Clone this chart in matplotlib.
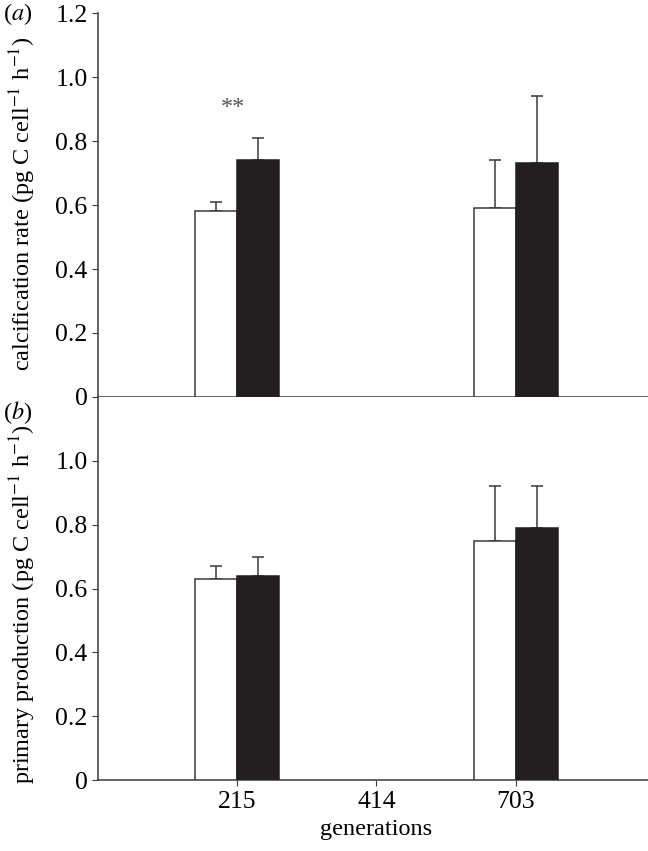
import matplotlib
matplotlib.use("Agg")
import matplotlib.pyplot as plt
import numpy as np

plt.rcParams['font.family'] = ['Liberation Serif', 'DejaVu Serif']
plt.rcParams['mathtext.fontset'] = 'stix'

generations = ['215', '414', '703']
# (a) calcification rate; 414 generations has no data
calc_open = [0.58, np.nan, 0.59]
calc_open_err = [0.03, np.nan, 0.15]
calc_filled = [0.74, np.nan, 0.73]
calc_filled_err = [0.07, np.nan, 0.21]
# (b) primary production
prod_open = [0.63, np.nan, 0.75]
prod_open_err = [0.04, np.nan, 0.17]
prod_filled = [0.64, np.nan, 0.79]
prod_filled_err = [0.06, np.nan, 0.13]

edge = '#3a3a3a'
dark = '#231f20'
fs_tick = 18.5
fs_lab = 17.5

fig = plt.figure(figsize=(6.48, 8.51), dpi=100)
ax1 = fig.add_axes([0.151, 0.5335, 0.86, 0.4512])
ax2 = fig.add_axes([0.151, 0.0834, 0.86, 0.4501])

x = np.arange(1, 4)
w = 0.3

def panel(ax, o, oe, f, fe):
    ax.bar(x - w / 2, o, w, color='white', edgecolor=edge, linewidth=1.1, zorder=3)
    ax.bar(x + w / 2, f, w, color=dark, edgecolor=dark, linewidth=1.1, zorder=3)
    ax.errorbar(x - w / 2, o, yerr=[np.zeros(3), oe], fmt='none', ecolor=edge,
                elinewidth=1.1, capsize=4.5, capthick=1.1, zorder=2)
    ax.errorbar(x + w / 2, f, yerr=[np.zeros(3), fe], fmt='none', ecolor=edge,
                elinewidth=1.1, capsize=4.5, capthick=1.1, zorder=2)
    ax.set_xlim(0, 4)
    ax.set_ylim(0, 1.2)
    for s in ['top', 'right']:
        ax.spines[s].set_visible(False)
    for s in ['left', 'bottom']:
        ax.spines[s].set_color(edge)
        ax.spines[s].set_linewidth(1.1)
    ax.tick_params(axis='y', direction='out', length=4.5, color=edge,
                   labelsize=fs_tick, pad=3)

panel(ax1, calc_open, calc_open_err, calc_filled, calc_filled_err)
panel(ax2, prod_open, prod_open_err, prod_filled, prod_filled_err)

ax1.set_yticks([0, 0.2, 0.4, 0.6, 0.8, 1.0, 1.2])
ax1.set_yticklabels(['0', '0.2', '0.4', '0.6', '0.8', '1.0', '1.2'])
ax1.set_xticks([])
ax2.set_yticks([0, 0.2, 0.4, 0.6, 0.8, 1.0])
ax2.set_yticklabels(['0', '0.2', '0.4', '0.6', '0.8', '1.0'])
ax2.set_xticks(x)
ax2.set_xticklabels(generations)
ax2.tick_params(axis='x', direction='out', length=4, color=edge,
                labelsize=fs_tick, pad=4)
ax2.set_xlabel('generations', fontsize=fs_lab, labelpad=4)

ax1.set_ylabel('calcification rate (pg C cell$^{-1}$ h$^{-1}$)', fontsize=fs_lab)
ax2.set_ylabel('primary production (pg C cell$^{-1}$ h$^{-1}$)', fontsize=fs_lab)
ax1.yaxis.set_label_coords(-0.108, 0.503)
ax2.yaxis.set_label_coords(-0.108, 0.46)

ax1.text(1 - 0.03, 0.905, '**', ha='center', va='center', fontsize=fs_lab, color='#555555')

fig.text(0.005, 0.984, '($\\it{a}$)', fontsize=fs_lab, va='center')
fig.text(0.005, 0.515, '($\\it{b}$)', fontsize=fs_lab, va='center')

fig.savefig('out.png', dpi=100)
